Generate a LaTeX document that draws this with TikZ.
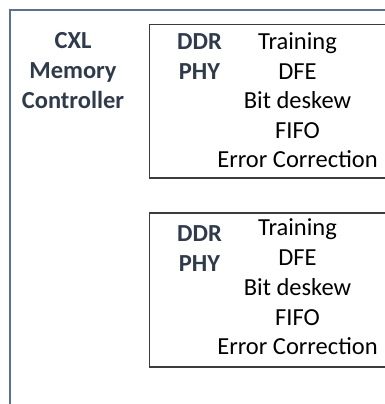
\documentclass[tikz,border=0pt]{standalone}
\usepackage{fontspec}
\setmainfont{Carlito}
\definecolor{frameblue}{HTML}{5C7190}
\definecolor{headslate}{HTML}{2F3A4B}
\definecolor{boxgray}{HTML}{3C3C3C}
\begin{document}
\begin{tikzpicture}[x=1pt,y=-1pt,
  head/.style={font=\fontsize{24.5}{29}\selectfont\bfseries, text=headslate, anchor=base, inner sep=0pt},
  item/.style={font=\fontsize{24.5}{29}\selectfont, text=black, anchor=base, inner sep=0pt},
  phybox/.style={draw=boxgray, line width=1.4pt}]
\useasboundingbox (0,0) rectangle (385,404);
\clip (0,0) rectangle (385,404);
% controller frame, running past the right and bottom edges
\draw[frameblue, line width=2pt] (10,10) rectangle (400,420);
\node[head] (cxl) at (73,48.5) {CXL};
\node[head] (mem) at (73,78.5) {Memory};
\node[head] (ctl) at (73,108) {Controller};
% first PHY
\draw[phybox] (149.5,24.5) rectangle (400,178);
\node[head] (ddra) at (199.5,50) {DDR};
\node[head] (phya) at (199.5,79) {PHY};
\node[item] (tra) at (297.5,50) {Training};
\node[item] (dfea) at (297.5,79) {DFE};
\node[item] (bita) at (297.5,108.5) {Bit deskew};
\node[item] (fifa) at (297.5,138) {FIFO};
\node[item] (erra) at (297.5,167) {Error Correction};
% second PHY
\draw[phybox] (149.5,213) rectangle (400,367);
\node[head] (ddrb) at (199.5,241.5) {DDR};
\node[head] (phyb) at (199.5,271.5) {PHY};
\node[item] (trb) at (297.5,235.5) {Training};
\node[item] (dfeb) at (297.5,265) {DFE};
\node[item] (bitb) at (297.5,295) {Bit deskew};
\node[item] (fifb) at (297.5,325) {FIFO};
\node[item] (errb) at (297.5,354.5) {Error Correction};
\end{tikzpicture}
\end{document}
